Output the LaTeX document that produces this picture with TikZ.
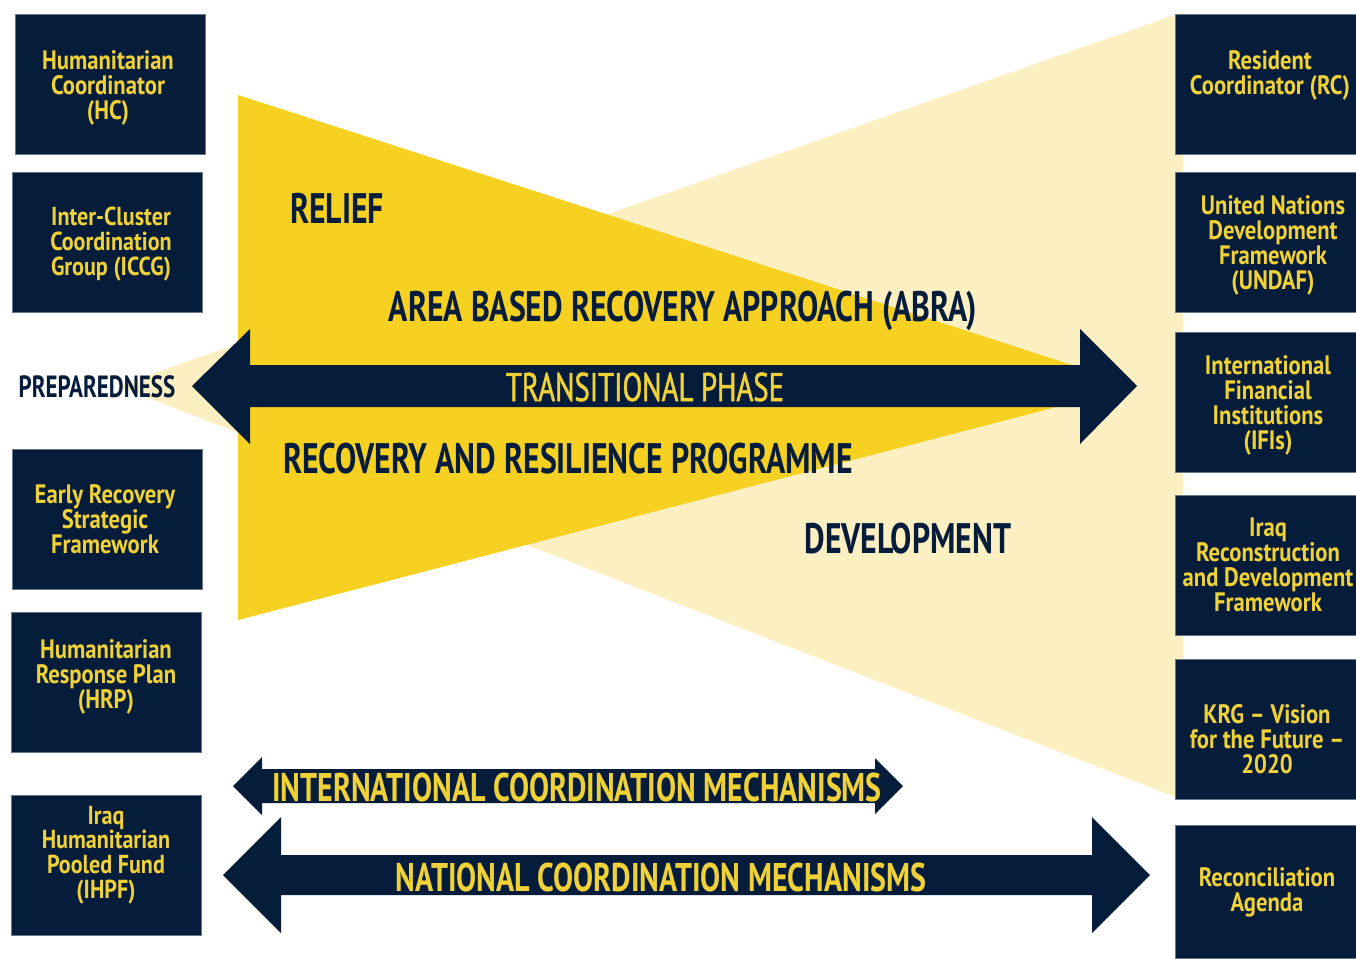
\documentclass[tikz,border=0pt]{standalone}
\usepackage{fontspec}
\newfontfamily\cndbig[FakeStretch=0.745]{PT Sans}
\newfontfamily\cndbox[FakeStretch=0.85]{PT Sans}
\newfontfamily\cndarr[FakeStretch=0.75]{PT Sans}
\newfontfamily\cndtr[FakeStretch=0.72,FakeBold=1.2]{PT Sans}
\definecolor{navy}{HTML}{061C3B}
\definecolor{gold}{HTML}{F6D122}
\definecolor{pale}{HTML}{FCF0C2}
\definecolor{txtgold}{HTML}{F1D236}
\tikzset{
  box/.style={fill=navy, draw=navy!60, line width=0.6pt, inner sep=0pt},
  lbox/.style={box, minimum width=142.5pt, minimum height=105pt},
  rbox/.style={box, minimum width=136pt, minimum height=105pt},
  btxt/.style={text=txtgold, align=center, inner sep=0pt,
    font=\cndbox\bfseries\fontsize{20}{18.75}\selectfont},
  tbtxt/.style={btxt, font=\cndbox\bfseries\fontsize{19.5}{18.5}\selectfont},
  big/.style={text=navy, inner sep=0pt, font=\cndbig\bfseries\fontsize{32}{34}\selectfont},
  arr/.style={fill=navy},
  arrtxt/.style={text=txtgold, inner sep=0pt, font=\cndarr\bfseries\fontsize{30}{32}\selectfont}
}
\begin{document}
\begin{tikzpicture}[x=0.75pt,y=-0.75pt]
\useasboundingbox (0,0) rectangle (1356,958);
% triangles
\fill[pale] (118,386) -- (1183,12) -- (1183,800) -- cycle;
\fill[gold] (238,95) -- (1137,386) -- (238,620) -- cycle;
% arrows
\fill[arr] (192,386) -- (250,329) -- (250,365) -- (1080,365) -- (1080,329) -- (1137,386) -- (1080,444) -- (1080,407) -- (250,407) -- (250,444) -- cycle;
\fill[arr] (233,786) -- (262,757) -- (262,769) -- (875,769) -- (875,758) -- (903,786) -- (875,814) -- (875,803) -- (262,803) -- (262,815) -- cycle;
\fill[arr] (223,875) -- (281,817) -- (281,855) -- (1092,855) -- (1092,817) -- (1150,875) -- (1092,933) -- (1092,895) -- (281,895) -- (281,933) -- cycle;
% texts
\node[big, anchor=base west] (relief) at (290,223) {RELIEF};
\node[big, anchor=base] (abra) at (683,321) {AREA BASED RECOVERY APPROACH (ABRA)};
\node[big, anchor=base] (rrp) at (568,473) {RECOVERY AND RESILIENCE PROGRAMME};
\node[big, anchor=base] (dev) at (908,553) {DEVELOPMENT};
\node[text=navy, inner sep=0pt, anchor=base, font=\cndarr\bfseries\fontsize{23}{24}\selectfont] (prep) at (97,397) {PREPAREDNESS};
\node[arrtxt, anchor=base, font=\cndtr\fontsize{30}{32}\selectfont] (trans) at (645,401) {TRANSITIONAL PHASE};
\node[arrtxt, anchor=base] (intl) at (577,801) {INTERNATIONAL COORDINATION MECHANISMS};
\node[arrtxt, anchor=base] (natl) at (661,891) {NATIONAL COORDINATION MECHANISMS};
% left boxes
\node[lbox] (hc) at (110,84.5) {};
\node[btxt] (hct) at (108,88) {Humanitarian\\Coordinator\\(HC)};
\node[lbox] (iccg) at (107,242) {};
\node[tbtxt] (iccgt) at (111,244) {Inter-Cluster\\Coordination\\Group (ICCG)};
\node[lbox] (ersf) at (107,519) {};
\node[btxt] (ersft) at (105,519) {Early Recovery\\Strategic\\Framework};
\node[lbox] (hrp) at (106,682) {};
\node[btxt] (hrpt) at (106,677) {Humanitarian\\Response Plan\\(HRP)};
\node[lbox] (ihpf) at (106,865) {};
\node[tbtxt] (ihpft) at (106,855) {Iraq\\Humanitarian\\Pooled Fund\\(IHPF)};
% right boxes
\node[rbox] (rc) at (1266.5,84.5) {};
\node[btxt] (rct) at (1270,75) {Resident\\Coordinator (RC)};
\node[rbox] (undaf) at (1266,242) {};
\node[btxt] (undaft) at (1273,245) {United Nations\\Development\\Framework\\(UNDAF)};
\node[rbox] (ifi) at (1266,402) {};
\node[btxt] (ifit) at (1268,405) {International\\Financial\\Institutions\\(IFIs)};
\node[rbox] (irdf) at (1266,565) {};
\node[btxt] (irdft) at (1268,565) {Iraq\\Reconstruction\\and Development\\Framework};
\node[rbox] (krg) at (1266,729.5) {};
\node[btxt] (krgt) at (1267,739) {KRG – Vision\\for the Future –\\2020};
\node[rbox, minimum height=100pt] (rec) at (1266,892) {};
\node[btxt] (rect) at (1267,892) {Reconciliation\\Agenda};
\end{tikzpicture}
\end{document}
